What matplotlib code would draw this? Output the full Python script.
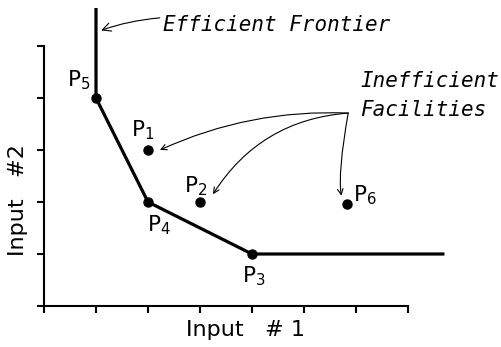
import matplotlib
matplotlib.use("Agg")
import matplotlib.pyplot as plt

# efficient frontier vertices (input #1, input #2); ends run off to the edges
frontier_x = [1, 1, 2, 4, 7.67]
frontier_y = [5.7, 4, 2, 1, 1]

# facilities
names = ["P1", "P2", "P3", "P4", "P5", "P6"]
input1 = [2, 3, 4, 2, 1, 5.82]
input2 = [3, 2, 1, 2, 4, 1.96]

x_ticks = list(range(0, 8))
y_ticks = list(range(0, 6))

# label offsets in pixels, per facility
label_off = {"P1": (-5, 20), "P2": (-4, 16), "P3": (2, -22),
             "P4": (11, -23), "P5": (-17, 18), "P6": (18, 9)}

fig = plt.figure(figsize=(5.01, 3.47), dpi=100)
ax = fig.add_axes([44 / 501, 41 / 347, 442 / 501, 296.4 / 347])
ax.set_xlim(0, 8.5)
ax.set_ylim(0, 5.7)

for s in ["top", "right"]:
    ax.spines[s].set_visible(False)
ax.spines["left"].set_bounds(0, 5)
ax.spines["bottom"].set_bounds(0, 7)
ax.spines["left"].set_linewidth(1.5)
ax.spines["bottom"].set_linewidth(1.5)
ax.set_xticks(x_ticks)
ax.set_yticks(y_ticks)
ax.set_xticklabels([])
ax.set_yticklabels([])
ax.tick_params(direction="out", length=5, width=1.5)

ax.plot(frontier_x, frontier_y, color="black", lw=2.3, clip_on=False,
        solid_joinstyle="round")
ax.plot(input1, input2, "o", color="black", ms=6.5, clip_on=False)

for n, x, y in zip(names, input1, input2):
    ax.annotate(r"$\mathregular{P_%s}$" % n[1:], (x, y),
                xytext=label_off[n], textcoords="offset pixels",
                ha="center", va="center", fontsize=15.5)

# axis titles
fig.text(0.491, 0.049, "Input   # 1", fontsize=16, ha="center", va="center")
fig.text(0.036, 0.424, "Input   #2", fontsize=16, ha="center", va="center",
         rotation=90)

mono = dict(family="DejaVu Sans Mono", style="italic", fontsize=15)
arrow = dict(arrowstyle="->", color="black", lw=0.8, shrinkA=0, shrinkB=0)

ax.annotate("Efficient Frontier", xy=(1.1, 5.3), xytext=(2.28, 5.41),
            va="center", ha="left", **mono,
            arrowprops=dict(arrow, connectionstyle="angle3,angleA=170,angleB=20"))

ax.text(6.08, 4.05, "Inefficient\nFacilities", va="center", ha="left",
        linespacing=1.6, **mono)
src = (5.85, 3.71)
ax.annotate("", xy=(2.23, 3.0), xytext=src,
            arrowprops=dict(arrow, connectionstyle="arc3,rad=0.12"))
ax.annotate("", xy=(3.25, 2.15), xytext=src,
            arrowprops=dict(arrow, connectionstyle="arc3,rad=0.25"))
ax.annotate("", xy=(5.72, 2.12), xytext=src,
            arrowprops=dict(arrow, connectionstyle="angle3,angleA=-100,angleB=-80"))

fig.savefig("out.png", dpi=100)
